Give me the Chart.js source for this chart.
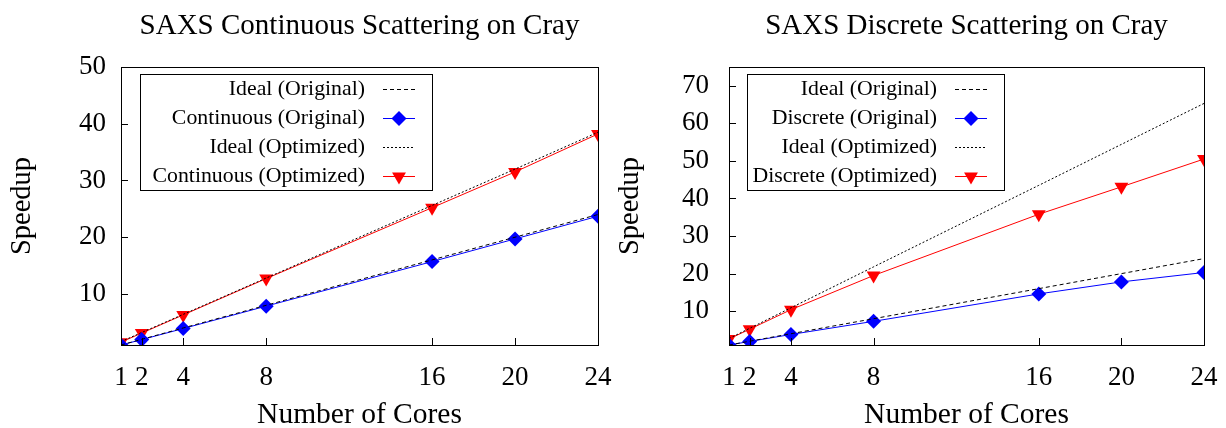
<!DOCTYPE html>
<html>
<head>
<meta charset="utf-8">
<script src="https://cdn.jsdelivr.net/npm/chart.js@4.4.1/dist/chart.umd.min.js"></script>
<style>
  body { margin: 0; background: #fff; }
  .row { display: flex; width: 1226px; height: 428px; }
  .cell { position: relative; width: 613px; height: 428px; }
</style>
</head>
<body>
<div class="row">
  <div class="cell"><canvas id="saxs_continuous"></canvas></div>
  <div class="cell"><canvas id="saxs_discrete"></canvas></div>
</div>
<script>
"use strict"

// cores on the x axis
var cores = [1, 2, 4, 8, 16, 20, 24];

// continuous scattering speedups
var contIdealOrig = [1, 2, 4, 8, 16, 20, 24];
var contOrig = [1, 1.95, 3.9, 7.85, 15.7, 19.7, 23.7];
var contIdealOpt = [1.6, 3.2, 6.4, 12.8, 25.6, 32, 38.5];
var contOpt = [1.5, 3.1, 6.3, 12.7, 25.2, 31.5, 38.2];

// discrete scattering speedups
var discIdealOrig = [1, 2, 4, 8, 16, 20, 24];
var discOrig = [1, 1.95, 3.8, 7.3, 14.6, 17.8, 20.3];
var discIdealOpt = [2.72, 5.44, 10.9, 21.8, 43.5, 54.4, 65.3];
var discOpt = [2.6, 5.2, 10.4, 19.5, 35.8, 43.1, 50.5];

// y tick labels
var contYTicks = [10, 20, 30, 40, 50];
var discYTicks = [10, 20, 30, 40, 50, 60, 70];

var serif = "'Liberation Serif', 'Times New Roman', serif";

function pts(ys) {
    return cores.map(function (c, i) { return { x: c, y: ys[i] }; });
}

function idealSet(label, ys, dash) {
    return {
        label: label, data: pts(ys),
        borderColor: '#000', borderWidth: 1, borderDash: dash,
        pointRadius: 0, fill: false, tension: 0
    };
}

function markSet(label, ys, color, style, rot, r) {
    return {
        label: label, data: pts(ys),
        borderColor: color, backgroundColor: color, borderWidth: 1,
        pointStyle: style, rotation: rot, pointRadius: r, pointHoverRadius: r,
        pointBorderWidth: 0, fill: false, tension: 0
    };
}

// frame, inward ticks and gnuplot style key
var framePlugin = {
    id: 'frame',
    afterDraw: function (chart, args, opts) {
        var ctx = chart.ctx, a = chart.chartArea;
        var sx = chart.scales.x, sy = chart.scales.y;
        ctx.save();
        ctx.strokeStyle = '#000';
        ctx.lineWidth = 1;
        ctx.setLineDash([]);
        ctx.strokeRect(Math.round(a.left) + 0.5, Math.round(a.top) + 0.5,
            Math.round(a.width), Math.round(a.height));
        ctx.beginPath();
        sy.ticks.forEach(function (t) {
            var y = Math.round(sy.getPixelForValue(t.value)) + 0.5;
            ctx.moveTo(a.left, y); ctx.lineTo(a.left + 7, y);
        });
        sx.ticks.forEach(function (t) {
            var x = Math.round(sx.getPixelForValue(t.value)) + 0.5;
            ctx.moveTo(x, a.bottom); ctx.lineTo(x, a.bottom - 7);
        });
        ctx.stroke();

        // key box
        var bx = a.left + opts.boxLeft, by = a.top + 7;
        ctx.strokeRect(Math.round(bx) + 0.5, Math.round(by) + 0.5, opts.boxWidth, 116);
        ctx.font = "21.8px " + serif;
        ctx.textAlign = 'right';
        ctx.textBaseline = 'middle';
        ctx.fillStyle = '#000';
        var tr = bx + opts.textRight;
        chart.data.datasets.forEach(function (ds, i) {
            var y = Math.round(by + 15 + i * 29) + 0.5;
            ctx.fillText(ds.label, tr, y);
            ctx.save();
            ctx.strokeStyle = ds.borderColor;
            ctx.lineWidth = 1;
            ctx.setLineDash(ds.borderDash || []);
            ctx.beginPath();
            ctx.moveTo(tr + 18, y); ctx.lineTo(tr + 50, y);
            ctx.stroke();
            if (ds.pointRadius > 0) {
                ctx.fillStyle = ds.backgroundColor;
                ctx.setLineDash([]);
                Chart.helpers.drawPoint(ctx, {
                    pointStyle: ds.pointStyle, rotation: ds.rotation,
                    radius: ds.pointRadius, borderWidth: 0
                }, tr + 34, y);
            }
            ctx.restore();
        });
        ctx.restore();
    }
};

function makeChart(id, title, datasets, yMax, yTicks, geo) {
    var config = {
        type: 'line',
        data: { datasets: datasets },
        options: {
            responsive: true,
            maintainAspectRatio: false,
            animation: false,
            layout: { padding: { top: 0, right: geo.right, bottom: 0, left: 0 } },
            plugins: {
                legend: { display: false },
                tooltip: { enabled: false },
                title: {
                    display: true, text: title, fullSize: false, color: '#000',
                    font: { family: serif, size: 29, weight: 'normal' },
                    padding: { top: 9, bottom: 23.2 }
                },
                frame: { boxLeft: geo.boxLeft, boxWidth: geo.boxWidth, textRight: geo.textRight }
            },
            scales: {
                x: {
                    type: 'linear', min: 1, max: 24,
                    grid: { display: false }, border: { display: false },
                    afterBuildTicks: function (s) { s.ticks = cores.map(function (v) { return { value: v }; }); },
                    afterFit: function (s) { s.height = 83; s.paddingLeft = 0; s.paddingRight = 0; },
                    ticks: { color: '#000', padding: 9, maxRotation: 0, autoSkip: false,
                        font: { family: serif, size: 27 } },
                    title: { display: true, text: 'Number of Cores', color: '#000',
                        font: { family: serif, size: 29.5, lineHeight: 1 }, padding: { top: 0, bottom: -2 } }
                },
                y: {
                    type: 'linear', min: 1, max: yMax,
                    grid: { display: false }, border: { display: false },
                    afterBuildTicks: function (s) { s.ticks = yTicks.map(function (v) { return { value: v }; }); },
                    afterFit: function (s) { s.width = geo.left; s.paddingTop = 0; s.paddingBottom = 0; },
                    ticks: { color: '#000', padding: geo.tickPad, font: { family: serif, size: 27 } },
                    title: { display: true, text: 'Speedup', color: '#000',
                        font: { family: serif, size: 28.5 }, padding: { top: geo.titlePad, bottom: 0 } }
                }
            }
        },
        plugins: [framePlugin]
    };
    return new Chart(document.getElementById(id).getContext('2d'), config);
}

var contChart = makeChart('saxs_continuous', 'SAXS Continuous Scattering on Cray', [
    idealSet('Ideal (Original)', contIdealOrig, [4, 3]),
    markSet('Continuous (Original)', contOrig, '#0000ff', 'rectRot', 0, 7.5),
    idealSet('Ideal (Optimized)', contIdealOpt, [2, 2]),
    markSet('Continuous (Optimized)', contOpt, '#ff0000', 'triangle', 180, 8)
], 50, contYTicks, { left: 121, right: 15, tickPad: 7, titlePad: 5, boxLeft: 19, boxWidth: 292, textRight: 225 });

var discChart = makeChart('saxs_discrete', 'SAXS Discrete Scattering on Cray', [
    idealSet('Ideal (Original)', discIdealOrig, [4, 3]),
    markSet('Discrete (Original)', discOrig, '#0000ff', 'rectRot', 0, 7.5),
    idealSet('Ideal (Optimized)', discIdealOpt, [2, 2]),
    markSet('Discrete (Optimized)', discOpt, '#ff0000', 'triangle', 180, 8)
], 75, discYTicks, { left: 116, right: 22, tickPad: 12, titlePad: 0, boxLeft: 18, boxWidth: 257, textRight: 190 });
</script>
</body>
</html>
